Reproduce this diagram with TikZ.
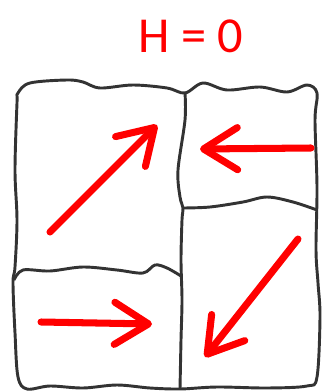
\documentclass[tikz,border=0pt]{standalone}
\usepackage{fontspec}
\setmainfont{Carlito}
\usetikzlibrary{arrows.meta}

\begin{document}
\begin{tikzpicture}[
    x=0.03cm, y=-0.03cm,
    wall/.style={draw=black!80, line width=2.5pt, line join=round},
    redarrow/.style={draw=red, line width=6pt, line cap=round,
        -{Straight Barb[length=29pt, width=36pt, line cap=round, line join=round]}},
    title/.style={text=red, font=\fontsize{43}{50}\selectfont, inner sep=0pt}
]
\useasboundingbox (0,0) rectangle (324,392);

% Title
\node[title] (title) at (191,36.5) {H = 0};

% Outer wall
\draw[wall] plot[smooth cycle, tension=0.55] coordinates {
    (18,93) (30,83) (67,80) (83,82) (100,88) (133,85) (167,88) (185,93)
    (203,83) (227,90) (260,87) (287,92) (307,85) (317,93)
    (315,120) (317,187) (316,250) (318,283) (320,317) (317,377)
    (307,386) (267,388) (217,387) (180,389) (150,388) (117,385) (83,388) (50,386)
    (27,389) (18,377) (15,333) (13,283) (15,267) (17,220) (15,170) (17,103)};

% Inner walls
\draw[wall] plot[smooth, tension=0.55] coordinates {
    (185,93) (185,120) (178,170) (180,197) (183,208) (182,220) (181,260) (182,300) (181,340) (180,389)};
\draw[wall] plot[smooth, tension=0.55] coordinates {
    (183,208) (210,207) (243,202) (267,197) (293,202) (317,210)};
\draw[wall] plot[smooth, tension=0.55] coordinates {
    (14,280) (23,270) (50,271) (83,267) (117,270) (143,273) (155,265) (167,268) (181,276)};

% Arrow ends
\coordinate (tl tail) at (50,232);
\coordinate (tl tip) at (157,125);
\coordinate (tr tail) at (311,148);
\coordinate (tr tip) at (200,149);
\coordinate (br tail) at (298,239);
\coordinate (br tip) at (205,357);
\coordinate (bl tail) at (41,322);
\coordinate (bl tip) at (152,324);

% Arrows
\draw[redarrow] (tl tail) -- (tl tip);
\draw[redarrow] (tr tail) -- (tr tip);
\draw[redarrow] (br tail) -- (br tip);
\draw[redarrow] (bl tail) -- (bl tip);

\end{tikzpicture}
\end{document}
